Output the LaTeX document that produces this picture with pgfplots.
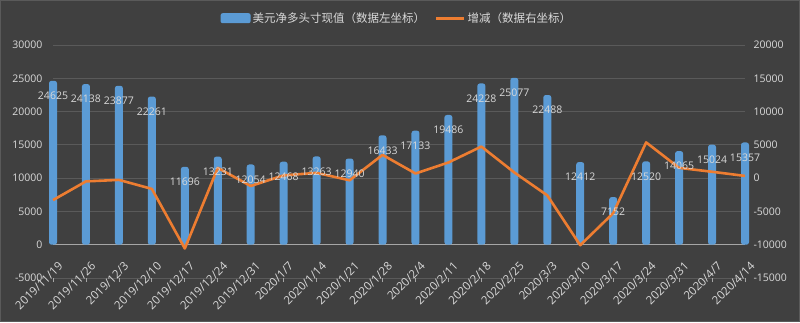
\documentclass[border=0pt]{standalone}
\usepackage{pgfplots}
\pgfplotsset{compat=1.18}
\usepackage{fontspec}
\setmainfont{Open Sans}
\newfontfamily\cjk{Noto Sans CJK SC}
\definecolor{bg}{HTML}{404040}
\definecolor{gridc}{HTML}{5A5A5A}
\definecolor{txt}{HTML}{D9D9D9}
\definecolor{barc}{HTML}{5B9BD5}
\definecolor{linec}{HTML}{ED7D31}
\definecolor{zeroc}{HTML}{A6A6A6}
\newcommand{\numfont}{\fontsize{10.5}{12}\selectfont}
\pgfplotstableread{
x y
0 24625
1 24138
2 23877
3 22261
4 11696
5 13231
6 12054
7 12468
8 13263
9 12940
10 16433
11 17133
12 19486
13 24228
14 25077
15 22488
16 12412
17 7152
18 12520
19 14065
20 15024
21 15357
}\barsdata
\pgfplotstableread{
x y
0 -3300
1 -487
2 -261
3 -1616
4 -10565
5 1535
6 -1177
7 414
8 795
9 -323
10 3493
11 700
12 2353
13 4742
14 849
15 -2589
16 -10076
17 -5260
18 5368
19 1545
20 959
21 333
}\linedata
\begin{document}
\begin{tikzpicture}[x=1pt,y=1pt]
\fill[bg] (0,0) rectangle (800,322);
\draw[gridc, line width=0.8pt] (0.4,0.4) rectangle (799.6,321.6);
\begin{axis}[
  at={(53pt,44pt)}, anchor=south west,
  scale only axis, width=692pt, height=233pt,
  xmin=0, xmax=21, ymin=-5000, ymax=30000,
  clip=false,
  axis x line*=middle, axis y line*=left,
  hide obscured x ticks=false,
  x axis line style={zeroc, line width=0.8pt},
  y axis line style={draw=none},
  xtick={0,...,21},
  xticklabels={2019/11/19,2019/11/26,2019/12/3,2019/12/10,2019/12/17,2019/12/24,2019/12/31,2020/1/7,2020/1/14,2020/1/21,2020/1/28,2020/2/4,2020/2/11,2020/2/18,2020/2/25,2020/3/3,2020/3/10,2020/3/17,2020/3/24,2020/3/31,2020/4/7,2020/4/14},
  x tick style={zeroc, line width=0.8pt},
  y tick style={draw=none},
  tick align=outside, xtick pos=bottom,
  x tick label style={xshift=10pt, yshift=-13pt, rotate=45, anchor=east, text=txt, font=\fontsize{11.5}{13}\selectfont},
  major tick length=4pt,
  ytick={-5000,0,...,30000},
  y tick label style={text=txt, font=\numfont, xshift=-3pt},
  scaled y ticks=false,
  /pgf/number format/1000 sep={},
  /pgf/number format/assume math mode=true,
  ymajorgrids, grid style={gridc, line width=0.8pt},
  legend style={at={(0.497,1.115)}, anchor=center, draw=none, fill=none,
    legend columns=2, text=txt, font=\cjk\fontsize{11.5}{13}\selectfont,
    /tikz/every even column/.append style={column sep=8pt}},
]
\addplot[ybar, bar width=8pt, fill=barc, draw=none, rounded corners=2.5pt,
  legend image code/.code={\fill[barc, rounded corners=2pt] (0pt,-5pt) rectangle (30pt,5pt);}]
  table[x=x,y=y] {\barsdata};
\addlegendentry{美元净多头寸现值（数据左坐标）}
\addlegendimage{legend image code/.code={\draw[linec, line width=2.6pt] (0pt,0pt) -- (28pt,0pt);}}
\addlegendentry{增减（数据右坐标）}
\end{axis}
\begin{axis}[
  at={(53pt,44pt)}, anchor=south west,
  scale only axis, width=692pt, height=233pt,
  xmin=0, xmax=21, ymin=-15000, ymax=20000,
  clip=false,
  axis x line=none, axis y line*=right,
  y axis line style={draw=none},
  y tick style={draw=none},
  ytick={-15000,-10000,...,20000},
  y tick label style={text=txt, font=\numfont, xshift=5pt},
  scaled y ticks=false,
  /pgf/number format/1000 sep={},
  /pgf/number format/assume math mode=true,
]
\addplot[linec, line width=2.6pt, line join=round, mark=none] table[x=x,y=y] {\linedata};
\end{axis}
\begin{axis}[
  at={(53pt,44pt)}, anchor=south west,
  scale only axis, width=692pt, height=233pt,
  xmin=0, xmax=21, ymin=-5000, ymax=30000,
  clip=false, hide axis,
]
\addplot[draw=none, mark=none,
  nodes near coords={\pgfmathprintnumber[assume math mode=true,1000 sep={},fixed,precision=0]{\pgfplotspointmeta}},
  every node near coord/.append style={anchor=center, yshift=-15pt, text=txt, font=\numfont}]
  table[x=x,y=y] {\barsdata};
\end{axis}
\end{tikzpicture}
\end{document}
